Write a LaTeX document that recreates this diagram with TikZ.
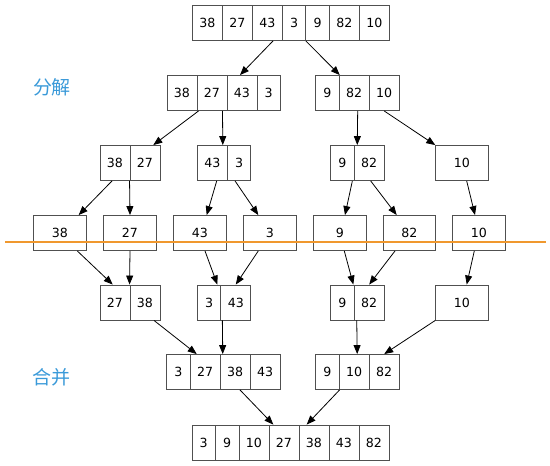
\documentclass[tikz,border=0pt]{standalone}
\usepackage{fontspec}
\newfontfamily\dejavu{DejaVu Sans}
\newfontfamily\cjk{Noto Sans CJK SC}
\usetikzlibrary{arrows.meta}
\definecolor{boxline}{HTML}{505050}
\definecolor{stageblue}{HTML}{3A9AD9}
\definecolor{cutorange}{HTML}{F0982E}
\tikzset{
  cell/.style={draw=boxline, line width=0.9pt, minimum height=35pt, inner sep=0pt,
    font=\dejavu\fontsize{12.6}{14}\selectfont},
  wtwo/.style={cell, minimum width=30pt},
  wone/.style={cell, minimum width=23.5pt},
  wleaf/.style={cell, minimum width=52.6pt},
  arr/.style={-{Triangle[length=9pt,width=7pt]}, line width=0.8pt, black},
  stagelbl/.style={text=stageblue, font=\cjk\fontsize{19}{19}\selectfont, inner sep=0pt},
}
\begin{document}
\begin{tikzpicture}[x=1pt,y=-1pt]
\fill[white] (0,0) rectangle (550,466);
\useasboundingbox (0,0) rectangle (550,466);

% labels
\node[stagelbl] (split) at (52,87) {分解};
\node[stagelbl] (merge) at (51,377) {合并};

% row 1
\node[wtwo] (a1) at (207.3,23) {38};
\node[wtwo] (a2) at (237.3,23) {27};
\node[wtwo] (a3) at (267.3,23) {43};
\node[wone] (a4) at (294.05,23) {3};
\node[wone] (a5) at (317.55,23) {9};
\node[wtwo] (a6) at (344.3,23) {82};
\node[wtwo] (a7) at (374.3,23) {10};

% row 2
\node[wtwo] (b1) at (182,93) {38};
\node[wtwo] (b2) at (212,93) {27};
\node[wtwo] (b3) at (242,93) {43};
\node[wone] (b4) at (268.75,93) {3};
\node[wone] (c1) at (327.45,93) {9};
\node[wtwo] (c2) at (354.2,93) {82};
\node[wtwo] (c3) at (384.2,93) {10};

% row 3
\node[wtwo] (d1) at (115,163) {38};
\node[wtwo] (d2) at (145,163) {27};
\node[wtwo] (e1) at (212.3,163) {43};
\node[wone] (e2) at (239.05,163) {3};
\node[wone] (f1) at (342.45,163) {9};
\node[wtwo] (f2) at (369.2,163) {82};
\node[wleaf] (g) at (462,163) {10};

% row 4 (leaves)
\node[wleaf] (L38) at (60,233) {38};
\node[wleaf] (L27) at (130,233) {27};
\node[wleaf] (L43) at (200,233) {43};
\node[wleaf] (L3) at (270,233) {3};
\node[wleaf] (L9) at (340,233) {9};
\node[wleaf] (L82) at (409.5,233) {82};
\node[wleaf] (L10) at (479,233) {10};

% row 5
\node[wtwo] (h1) at (115,302.5) {27};
\node[wtwo] (h2) at (145,302.5) {38};
\node[wone] (i1) at (209.05,302.5) {3};
\node[wtwo] (i2) at (235.8,302.5) {43};
\node[wone] (j1) at (342.45,302.5) {9};
\node[wtwo] (j2) at (369.2,302.5) {82};
\node[wleaf] (k) at (462,302.5) {10};

% row 6
\node[wone] (l1) at (178.45,372) {3};
\node[wtwo] (l2) at (205.2,372) {27};
\node[wtwo] (l3) at (235.2,372) {38};
\node[wtwo] (l4) at (265.2,372) {43};
\node[wone] (m1) at (327.45,372) {9};
\node[wtwo] (m2) at (354.2,372) {10};
\node[wtwo] (m3) at (384.2,372) {82};

% row 7
\node[wone] (n1) at (203.75,442.5) {3};
\node[wone] (n2) at (227.25,442.5) {9};
\node[wtwo] (n3) at (254,442.5) {10};
\node[wtwo] (n4) at (284,442.5) {27};
\node[wtwo] (n5) at (314,442.5) {38};
\node[wtwo] (n6) at (344,442.5) {43};
\node[wtwo] (n7) at (374,442.5) {82};

% arrows
\draw[arr] ([xshift=5.7pt]a3.south) -- ([xshift=-2pt]b3.north);
\draw[arr] ([xshift=0.5pt]a5.south west) -- ([xshift=1pt]c2.north west);
\draw[arr] ([xshift=2pt]b2.south west) -- ([xshift=8.3pt]d2.north);
\draw[arr] ([xshift=10.5pt]b2.south) -- ([xshift=10.5pt]e1.north);
\draw[arr] ([xshift=3.5pt]c2.south) -- ([xshift=3.5pt]f2.north west);
\draw[arr] (c3.south) -- (g.north west);
\draw[arr] ([xshift=-3pt]d1.south) -- ([xshift=18.7pt]L38.north);
\draw[arr] (d2.south west) -- (L27.north);
\draw[arr] ([xshift=4.4pt]e1.south) -- ([xshift=6.7pt]L43.north);
\draw[arr] ([xshift=-4pt]e2.south) -- ([xshift=-11.7pt]L3.north);
\draw[arr] ([xshift=9.9pt]f1.south) -- ([xshift=5pt]L9.north);
\draw[arr] ([xshift=1.5pt]f2.south) -- ([xshift=-12.8pt]L82.north);
\draw[arr] ([xshift=4.7pt]g.south) -- ([xshift=-4pt]L10.north);
\draw[arr] ([xshift=17.3pt]L38.south) -- ([xshift=-2.3pt]h1.north);
\draw[arr] (L27.south) -- (h2.north west);
\draw[arr] ([xshift=5pt]L43.south) -- ([xshift=8.3pt]i1.north);
\draw[arr] ([xshift=-11.7pt]L3.south) -- (i2.north);
\draw[arr] ([xshift=4.3pt]L9.south) -- ([xshift=10.9pt]j1.north);
\draw[arr] ([xshift=-14.5pt]L82.south) -- (j2.north);
\draw[arr] ([xshift=-4.7pt]L10.south) -- ([xshift=4.7pt]k.north);
\draw[arr] ([xshift=9pt]h2.south) -- ([xshift=-8.5pt]l2.north);
\draw[arr] ([xshift=2pt]i2.south west) -- ([xshift=3pt]l3.north west);
\draw[arr] ([xshift=3pt]j2.south west) -- ([xshift=3pt]m2.north);
\draw[arr] (k.south west) -- (m3.north);
\draw[arr] ([xshift=4.8pt]l3.south) -- ([xshift=-10.7pt]n4.north);
\draw[arr] ([xshift=0.8pt]m2.south west) -- ([xshift=-7.3pt]n5.north);

% cut line
\coordinate (cutL) at (5,242.3);
\coordinate (cutR) at (546,242.3);
\draw[cutorange, line width=2pt] (cutL) -- (cutR);
\end{tikzpicture}
\end{document}
